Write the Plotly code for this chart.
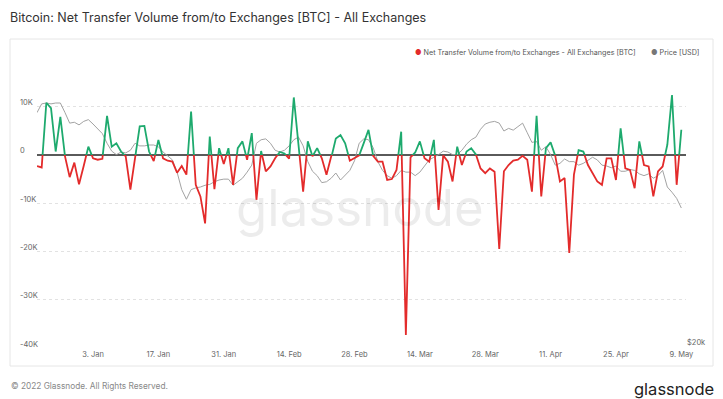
import pandas as pd
import plotly.graph_objects as go

# ---------------- data ----------------
start_date = "2021-12-22"
net_flow_btc = [
    -2300, -2600, 10800, 9700, 700, 7900, -300, -4600, -1600, -6100,
    -2300, 1700, -700, -1000, -800, 8100, 1700, 2400, 700, -300,
    -7200, -200, 5900, 6000, 700, -1300, 3100, -700, -1200, -1400,
    -3700, -2300, -4100, 9000, -6200, -8600, -14200, 3800, -7100, 1400,
    -1900, 1400, -6200, 1400, 2800, -1000, 4500, -9300, 800, -3400,
    -2400, -700, 600, 300, -800, 11900, 2000, -7600, 2800, -300,
    1400, -700, -4100, -700, 3400, 4100, 2400, -1200, -700, -100,
    2500, 5200, -200, -1400, -1400, -5200, -5000, -3100, 4800, -37300,
    -500, 500, 2800, -700, -1400, 3100, -11400, -100, -1400, -5500,
    1700, -2100, 700, 1400, 100, -2800, -3800, -2800, -3500, -19500,
    -3400, -2100, -1200, -1000, -200, -1000, -7600, 8100, -8600, 1400,
    2600, -200, -5500, -4800, -20300, -4100, 1000, 700, -2100, -3800,
    -5500, -6200, -700, -700, -5200, 5500, -2800, -3100, -6900, 2800,
    -2100, -2400, -8600, -3400, -2400, 2100, 12400, -6200, 5200,
]
price_usd = [
    46900, 47900, 48000, 47900, 48000, 48000, 46900, 45700, 45800, 45500,
    45900, 46100, 45600, 45100, 44500, 43400, 42500, 42100, 42400, 42300,
    42600, 43400, 43100, 43100, 43200, 43200, 43000, 42400, 41900, 41500,
    40100, 38100, 37000, 38100, 38300, 38400, 38600, 38700, 39000, 39200,
    39300, 39300, 38600, 39000, 39400, 40100, 40900, 43400, 43800, 43900,
    43400, 42600, 42400, 42600, 43100, 43800, 44100, 43100, 41300, 40200,
    39700, 38900, 39000, 39400, 40000, 39200, 39700, 40300, 41400, 43400,
    43900, 43800, 42900, 41300, 40300, 39700, 39400, 39700, 40300, 40100,
    40100, 39700, 40100, 40800, 41500, 41800, 42100, 42500, 42400, 42100,
    42100, 42600, 43300, 43800, 44100, 45000, 45600, 45800, 45900, 45700,
    44800, 45100, 44900, 45300, 45700, 44600, 43500, 43600, 42600, 43000,
    42100, 40900, 41100, 41600, 41300, 41300, 40900, 41100, 41500, 41800,
    41500, 40900, 40800, 40600, 40800, 40200, 40200, 40400, 40300, 39900,
    39700, 39900, 39400, 39700, 40300, 38400, 37800, 37100, 36000,
]
y_tick_values = [10000, 0, -10000, -20000, -30000, -40000]
y_tick_labels = ["10K", "0", "-10K", "-20K", "-30K", "-40K"]
price_tick_values = [20000]
price_tick_labels = ["$20k"]

dates = pd.date_range(start_date, periods=len(net_flow_btc), freq="D")

# ---------------- geometry helpers ----------------
W, H = 723, 399
L, R, T, B = 37, 686, 68, 348
PW, PH = R - L, B - T
def px(x):
    return (x - L) / PW
def py(y):
    return (B - y) / PH

Y_MIN, Y_MAX = -40000, 18000
zero_frac = (0 - Y_MIN) / (Y_MAX - Y_MIN)

GREEN = "#1eaa6e"
RED = "#e32b2b"
GRAY = "#a3a3a3"
FONT = "Inter"

fig = go.Figure()

# price line (right axis)
fig.add_trace(go.Scatter(x=dates, y=price_usd, mode="lines", yaxis="y2",
                         line=dict(color=GRAY, width=1), name="Price [USD]",
                         hoverinfo="skip"))
# net flow: green part (clipped to area above zero)
fig.add_trace(go.Scatter(x=dates, y=net_flow_btc, mode="lines", yaxis="y3",
                         line=dict(color=GREEN, width=1.8), showlegend=False,
                         hoverinfo="skip"))
# net flow: red part (clipped to area below zero)
fig.add_trace(go.Scatter(x=dates, y=net_flow_btc, mode="lines", yaxis="y4",
                         line=dict(color=RED, width=1.8),
                         name="Net Transfer Volume from/to Exchanges - All Exchanges [BTC]",
                         hoverinfo="skip"))

annotations = []
for v, t in zip(y_tick_values, y_tick_labels):
    annotations.append(dict(xref="paper", x=0, xshift=-19, xanchor="left",
                            yref="y", y=v, yanchor="middle", yshift=4,
                            text=t, showarrow=False,
                            font=dict(family=FONT, size=7.5, color="#666")))

# watermark
annotations.append(dict(xref="paper", yref="paper", x=px(360), y=py(207),
                        text="glassnode", showarrow=False,
                        font=dict(family=FONT, size=51, color="rgba(0,0,0,0.075)")))
# legend
annotations.append(dict(xref="paper", yref="paper", x=px(638), y=py(52.7),
                        xanchor="right", yanchor="middle", showarrow=False,
                        text=f"<span style='color:{RED}'>●</span> Net Transfer Volume from/to Exchanges - All Exchanges [BTC]",
                        font=dict(family=FONT, size=7.2, color="#555")))
annotations.append(dict(xref="paper", yref="paper", x=px(701), y=py(52.7),
                        xanchor="right", yanchor="middle", showarrow=False,
                        text=f"<span style='color:#777'>●</span> Price [USD]",
                        font=dict(family=FONT, size=7.2, color="#555")))
# footer
annotations.append(dict(xref="paper", yref="paper", x=px(9), y=py(386),
                        xanchor="left", yanchor="middle", showarrow=False,
                        text="© 2022 Glassnode. All Rights Reserved.",
                        font=dict(family=FONT, size=8.3, color="#888")))
annotations.append(dict(xref="paper", yref="paper", x=px(716), y=py(389),
                        xanchor="right", yanchor="middle", showarrow=False,
                        text="glassnode",
                        font=dict(family=FONT, size=16.5, color="#222")))

shapes = [
    dict(type="rect", xref="paper", yref="paper",
         x0=px(10), x1=px(713), y0=py(366), y1=py(39),
         line=dict(color="#e6e6e6", width=1), fillcolor="rgba(0,0,0,0)",
         layer="below"),
]

fig.update_layout(
    width=W, height=H,
    margin=dict(l=L, r=W - R, t=T, b=H - B),
    paper_bgcolor="white", plot_bgcolor="rgba(0,0,0,0)",
    showlegend=False,
    title=dict(text="Bitcoin: Net Transfer Volume from/to Exchanges [BTC] - All Exchanges",
               xref="container", yref="container", x=10 / W, y=1 - 18 / H,
               xanchor="left", yanchor="middle",
               font=dict(family=FONT, size=12.5, color="#333")),
    font=dict(family=FONT),
    xaxis=dict(type="date", range=[dates[0], dates[-1] + pd.Timedelta(days=1)],
               tickmode="linear", tick0="2022-01-03", dtick=14 * 86400000,
               tickformat="%-d. %b", showgrid=False, zeroline=False,
               showline=False, ticks="",
               tickfont=dict(family=FONT, size=7.5, color="#666")),
    yaxis=dict(range=[Y_MIN, Y_MAX], tickvals=y_tick_values, showticklabels=False,
               showgrid=True, gridcolor="#e2e2e2", griddash="dot", gridwidth=1,
               zeroline=True, zerolinecolor="#5a5a5a", zerolinewidth=1.6,
               ticks=""),
    yaxis2=dict(overlaying="y", side="right", range=[20000, 52000],
                tickvals=price_tick_values, ticktext=price_tick_labels,
                ticklabelposition="outside top", showgrid=False, zeroline=False,
                ticks="", tickfont=dict(family=FONT, size=7.5, color="#666")),
    yaxis3=dict(domain=[zero_frac, 1], range=[0, Y_MAX], visible=False,
                anchor="x", showgrid=False, zeroline=False),
    yaxis4=dict(domain=[0, zero_frac], range=[Y_MIN, 0], visible=False,
                anchor="x", showgrid=False, zeroline=False),
    annotations=annotations,
    shapes=shapes,
)

fig.write_html("out.html",
               config={"displayModeBar": False, "staticPlot": True},
               post_script="document.body.style.margin='0';document.body.style.overflow='hidden';")
